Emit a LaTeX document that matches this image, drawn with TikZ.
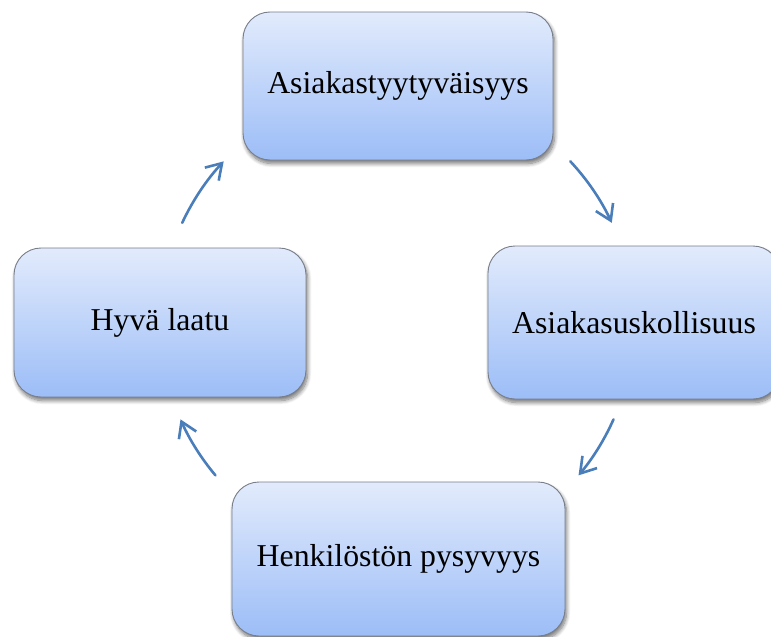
\documentclass[tikz,border=0pt]{standalone}
\usepackage{fontspec}
\setmainfont{Liberation Serif}
\usetikzlibrary{arrows.meta,shadows.blur}
\definecolor{boxtop}{RGB}{226,235,252}
\definecolor{boxbot}{RGB}{156,189,247}
\definecolor{boxline}{RGB}{120,126,138}
\definecolor{flow}{RGB}{74,126,187}
\tikzset{
  stage/.style={rectangle, rounded corners=27pt, draw=boxline, line width=0.9pt,
    top color=boxtop, bottom color=boxbot, inner sep=0pt,
    font=\fontsize{31.8}{38}\selectfont,
    blur shadow={shadow xshift=1.5pt, shadow yshift=-3.5pt,
      shadow blur radius=4pt, shadow blur steps=8, shadow opacity=55}},
  flowarrow/.style={draw=flow, line width=2.6pt, line cap=round,
    -{Straight Barb[length=15pt, width=19pt, line width=2.6pt]}}
}
\begin{document}
\begin{tikzpicture}[x=1pt,y=1pt]
  \useasboundingbox (0,0) rectangle (771,-637);
  % the four stages of the cycle
  \node[stage, minimum width=310pt, minimum height=148pt] (tyyt) at (398,-86) {Asiakastyytyväisyys};
  \node[stage, minimum width=292pt, minimum height=153pt] (usk) at (634,-322.5) {Asiakasuskollisuus};
  \node[stage, minimum width=333pt, minimum height=154pt] (henk) at (398.5,-559) {Henkilöstön pysyvyys};
  \node[stage, minimum width=292pt, minimum height=149pt] (laatu) at (160,-322.5) {Hyvä laatu};
  % curved arrows on a common circle around the middle
  \coordinate (hub) at (397,-323);
  \path (hub) ++(43:237) coordinate (a1);
  \path (hub) ++(-24:237) coordinate (a2);
  \path (hub) ++(220:237) coordinate (a3);
  \path (hub) ++(155:237) coordinate (a4);
  \draw[flowarrow] (a1) arc[start angle=43, end angle=25, radius=237];
  \draw[flowarrow] (a2) arc[start angle=-24, end angle=-40, radius=237];
  \draw[flowarrow] (a3) arc[start angle=220, end angle=204, radius=237];
  \draw[flowarrow] (a4) arc[start angle=155, end angle=137, radius=237];
\end{tikzpicture}
\end{document}
